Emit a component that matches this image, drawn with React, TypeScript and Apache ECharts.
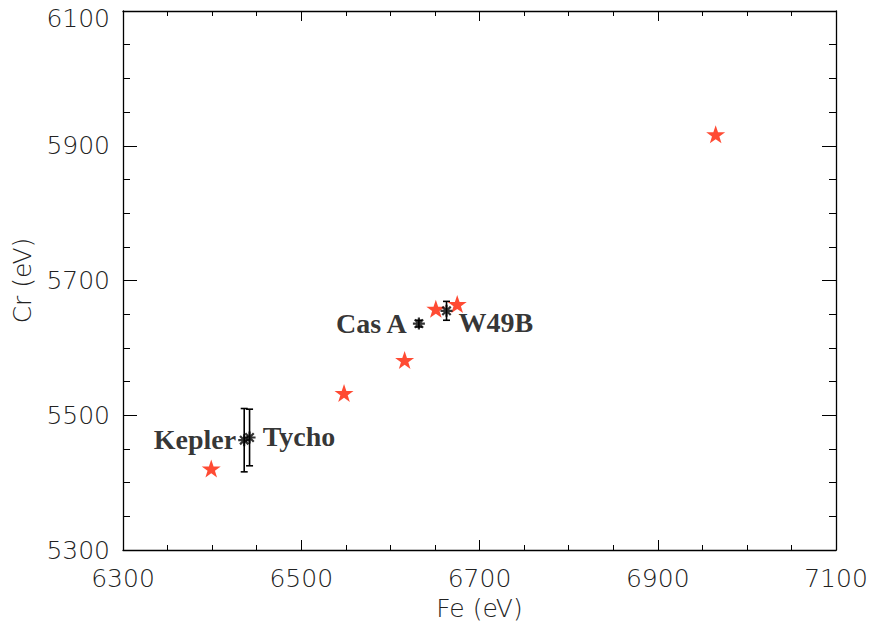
import React, { useEffect, useRef } from "react";
import * as echarts from "echarts";

// Model predictions (red stars)
const modelFe = [6399, 6548, 6616, 6651, 6675, 6965];
const modelCr = [5421, 5533, 5582, 5658, 5665, 5917];

// Observed SNRs (black asterisks with error bars)
const snrNames = ["Kepler", "Tycho", "Cas A", "W49B"];
const snrFe = [6436, 6442, 6632, 6663];
const snrCr = [5463, 5467, 5636, 5655];
const snrCrErr = [47, 42, 5, 14];

// Axis ticks
const xTicks = [6300, 6500, 6700, 6900, 7100];
const yTicks = [5300, 5500, 5700, 5900, 6100];

// label placement (style only)
const labelPlace = [
  { position: "left", distance: 1, offset: [0, -1] },
  { position: "right", distance: 6, offset: [0, -1] },
  { position: "left", distance: 5, offset: [0, 0] },
  { position: "right", distance: 5, offset: [0, 12] },
];

const STAR =
  "path://M50,0 L61.8,35.1 L98.1,35.1 L68.7,56.8 L79.4,91.0 L50,70 L20.6,91.0 L31.3,56.8 L1.9,35.1 L38.2,35.1 Z";
const ASTER =
  "path://M0,5 L10,5 M5,0 L5,10 M1.5,1.5 L8.5,8.5 M8.5,1.5 L1.5,8.5";

const tickFont = {
  fontFamily: "DejaVu Sans",
  fontWeight: 200,
  fontSize: 25,
  color: "#222",
};

export default function App() {
  const ref = useRef<HTMLDivElement>(null);
  useEffect(() => {
    if (!ref.current) return;
    const chart = echarts.init(ref.current, undefined, { renderer: "svg" });
    const xMin = xTicks[0];
    const xMax = xTicks[xTicks.length - 1];
    const yMin = yTicks[0];
    const yMax = yTicks[yTicks.length - 1];
    const axisLine = { show: true, lineStyle: { color: "#000", width: 1.3 } };
    const fmtX = (v: number) => String(v);
    const fmtY = (v: number) => (v === yMax ? "{t|" + v + "}" : String(v));
    const baseX = {
      type: "value",
      min: xMin,
      max: xMax,
      interval: 200,
      axisLine,
      splitLine: { show: false },
      axisTick: { show: true, inside: true, length: 10, lineStyle: { color: "#000", width: 1 } },
      minorTick: { show: true, splitNumber: 4, length: 5, lineStyle: { color: "#000", width: 1 } },
    };
    const baseY = {
      type: "value",
      min: yMin,
      max: yMax,
      interval: 200,
      axisLine,
      splitLine: { show: false },
      axisTick: { show: true, inside: true, length: 14, lineStyle: { color: "#000", width: 1 } },
      minorTick: { show: true, splitNumber: 4, length: 7, lineStyle: { color: "#000", width: 1 } },
    };
    const option: any = {
      animation: false,
      backgroundColor: "#fff",
      grid: { left: 123, top: 11, right: 35, bottom: 79 },
      xAxis: [
        {
          ...baseX,
          position: "bottom",
          axisLabel: { ...tickFont, margin: 16, formatter: fmtX },
          name: "Fe (eV)",
          nameLocation: "middle",
          nameGap: 44,
          nameTextStyle: { ...tickFont },
        },
        { ...baseX, position: "top", axisLabel: { show: false } },
      ],
      yAxis: [
        {
          ...baseY,
          position: "left",
          axisLabel: {
            ...tickFont,
            margin: 13,
            formatter: fmtY,
            rich: { t: { ...tickFont, padding: [15, 0, 0, 0] } },
          },
          name: "Cr (eV)",
          nameLocation: "middle",
          nameGap: 88,
          nameTextStyle: { ...tickFont },
        },
        { ...baseY, position: "right", axisLabel: { show: false } },
      ],
      series: [
        {
          type: "custom",
          xAxisIndex: 0,
          yAxisIndex: 0,
          data: snrFe.map((x, i) => [x, snrCr[i], snrCrErr[i]]),
          encode: { x: 0, y: 1 },
          renderItem: (params: any, api: any) => {
            const x = api.value(0);
            const y = api.value(1);
            const e = api.value(2);
            const top = api.coord([x, y + e]);
            const bot = api.coord([x, y - e]);
            const w = 3.5;
            const style = { stroke: "#000", lineWidth: 1.6 };
            return {
              type: "group",
              children: [
                { type: "line", shape: { x1: top[0], y1: top[1], x2: bot[0], y2: bot[1] }, style },
                { type: "line", shape: { x1: top[0] - w, y1: top[1], x2: top[0] + w, y2: top[1] }, style },
                { type: "line", shape: { x1: bot[0] - w, y1: bot[1], x2: bot[0] + w, y2: bot[1] }, style },
              ],
            };
          },
          z: 3,
        },
        {
          type: "scatter",
          symbol: STAR,
          symbolSize: [19, 18],
          itemStyle: { color: "#ff1e00" },
          data: modelFe.map((x, i) => [x, modelCr[i]]),
          z: 4,
        },
        {
          type: "scatter",
          symbol: ASTER,
          symbolSize: 12,
          itemStyle: { color: "#000", borderColor: "#000", borderWidth: 2.2 },
          data: snrFe.map((x, i) => ({
            value: [x, snrCr[i]],
            name: snrNames[i],
            label: {
              show: true,
              formatter: "{b}",
              position: labelPlace[i].position,
              distance: labelPlace[i].distance,
              offset: labelPlace[i].offset,
              fontFamily: "Liberation Serif",
              fontWeight: "bold",
              fontSize: 28,
              color: "#000",
            },
          })),
          z: 5,
        },
      ],
    };
    chart.setOption(option);
    return () => chart.dispose();
  }, []);
  return (
    <div
      ref={ref}
      style={{ position: "fixed", left: 0, top: 0, width: 871, height: 629 }}
    />
  );
}
